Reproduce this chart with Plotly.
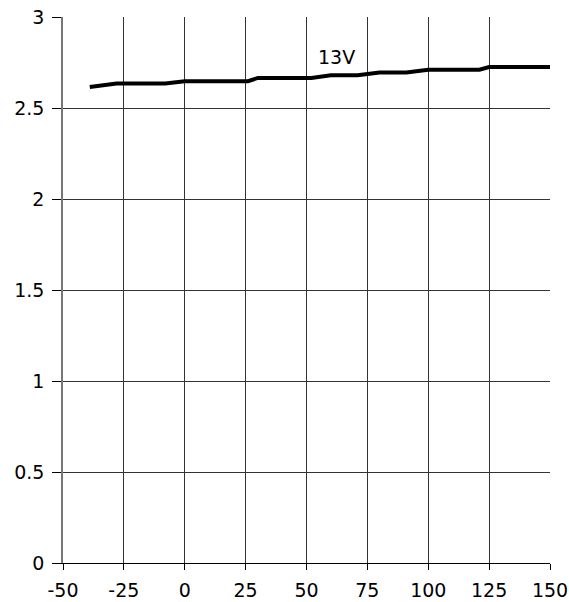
import plotly.graph_objects as go

temps = [-39, -28, -8, 0, 26, 30, 52, 60, 71, 80, 91, 100, 121, 125, 152]
volts = [2.615, 2.635, 2.635, 2.647, 2.647, 2.665, 2.665, 2.68, 2.68, 2.695, 2.695, 2.71, 2.71, 2.725, 2.725]
label_text = "13V"
label_x = 62.4
label_y = 2.78

x_ticks = [-50, -25, 0, 25, 50, 75, 100, 125, 150]
y_ticks = [0, 0.5, 1, 1.5, 2, 2.5, 3]
y_tick_text = ["0", "0.5", "1", "1.5", "2", "2.5", "3"]

FONT = "DejaVu Sans"

fig = go.Figure()
fig.add_trace(go.Scatter(x=temps, y=volts, mode="lines",
                         line=dict(color="black", width=4),
                         cliponaxis=False, showlegend=False, hoverinfo="skip"))
fig.add_annotation(x=label_x, y=label_y, text=label_text, showarrow=False,
                   font=dict(family=FONT, size=19, color="black"))

fig.update_layout(
    width=569, height=602,
    margin=dict(l=63, r=19, t=17, b=39, autoexpand=False),
    paper_bgcolor="white", plot_bgcolor="white",
    font=dict(family=FONT, size=19, color="black"),
    xaxis=dict(range=[-50, 150], tickvals=x_ticks, ticktext=[str(v) for v in x_ticks],
               showgrid=True, gridcolor="#333", gridwidth=1,
               showline=True, linecolor="black", linewidth=1, mirror=False,
               ticks="outside", ticklen=6, tickcolor="black", zeroline=False,
               ticklabelstandoff=4, automargin=False),
    yaxis=dict(range=[0, 3], tickvals=y_ticks, ticktext=y_tick_text,
               showgrid=True, gridcolor="#333", gridwidth=1,
               showline=True, linecolor="#777", linewidth=1.5,
               ticks="outside", ticklen=9, tickcolor="black", zeroline=False,
               ticklabelstandoff=4, automargin=False),
)
fig.write_html("out.html", config={"displayModeBar": False},
               post_script="document.body.style.margin='0';document.body.style.overflow='hidden';")
